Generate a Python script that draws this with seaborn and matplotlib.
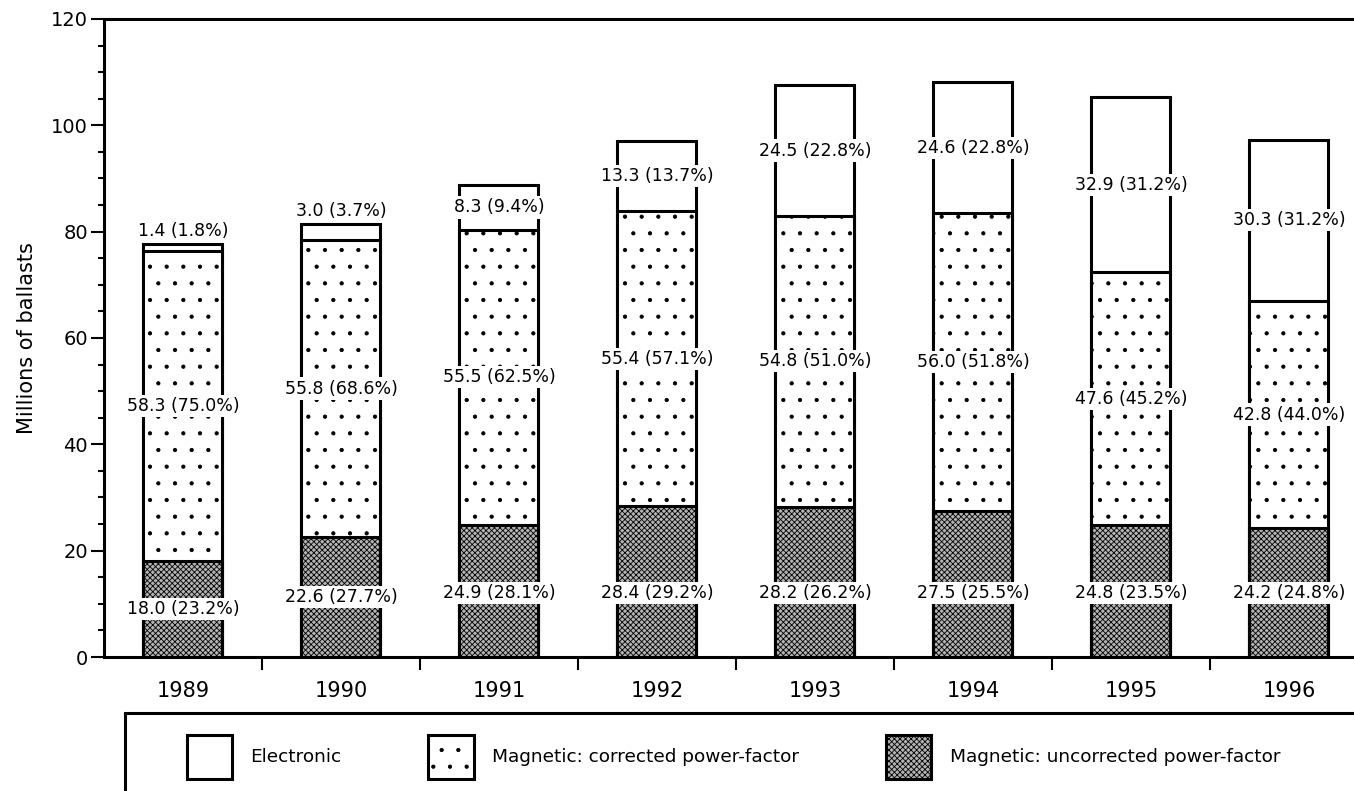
"""
Stacked bars: ballast shipments by type, 1989-1996
"""

import numpy as np
import pandas as pd
import matplotlib
matplotlib.use("Agg")
import matplotlib.pyplot as plt
from matplotlib.patches import Rectangle
from matplotlib.ticker import MultipleLocator, FixedLocator
import seaborn as sns

# ============== DATA ==============
YEARS = ["1989", "1990", "1991", "1992", "1993", "1994", "1995", "1996"]

# millions of ballasts, with share of the year's total
UNCORRECTED = [18.0, 22.6, 24.9, 28.4, 28.2, 27.5, 24.8, 24.2]
UNCORRECTED_PCT = [23.2, 27.7, 28.1, 29.2, 26.2, 25.5, 23.5, 24.8]
CORRECTED = [58.3, 55.8, 55.5, 55.4, 54.8, 56.0, 47.6, 42.8]
CORRECTED_PCT = [75.0, 68.6, 62.5, 57.1, 51.0, 51.8, 45.2, 44.0]
ELECTRONIC = [1.4, 3.0, 8.3, 13.3, 24.5, 24.6, 32.9, 30.3]
ELECTRONIC_PCT = [1.8, 3.7, 9.4, 13.7, 22.8, 22.8, 31.2, 31.2]

LEGEND_LABELS = [
    "Electronic",
    "Magnetic: corrected power-factor",
    "Magnetic: uncorrected power-factor",
]
# ====================================


def build_frame():
    """cumulative heights for layered (stacked) bars"""
    df = pd.DataFrame({
        "year": YEARS,
        "uncorrected": UNCORRECTED,
        "corrected": CORRECTED,
        "electronic": ELECTRONIC,
    })
    df["cum_corrected"] = df["uncorrected"] + df["corrected"]
    df["total"] = df["cum_corrected"] + df["electronic"]
    return df


def label(ax, x, y, value, pct):
    ax.text(x, y, f"{value:.1f} ({pct:.1f}%)", ha="center", va="center",
            fontsize=12.5, zorder=5,
            bbox=dict(facecolor="white", edgecolor="none", pad=1.5))


def main():
    plt.rcParams["hatch.linewidth"] = 0.6
    df = build_frame()

    fig = plt.figure(figsize=(13.54, 7.91), dpi=100)
    ax = fig.add_axes([0.0768, 0.1694, 0.9335, 0.8066])

    bar_kw = dict(width=0.5, edgecolor="black", linewidth=2.2,
                  saturation=1, errorbar=None, ax=ax)
    # draw from tallest to shortest so each layer covers the one below
    sns.barplot(data=df, x="year", y="total", color="white", **bar_kw)
    sns.barplot(data=df, x="year", y="cum_corrected", color="white", **bar_kw)
    sns.barplot(data=df, x="year", y="uncorrected", color="#b4b4b4", **bar_kw)

    for p in ax.containers[1]:
        p.set_hatch(".")
    for p in ax.containers[2]:
        p.set_hatch("xxxxxx")

    # value labels
    for i in range(len(YEARS)):
        unc = df["uncorrected"][i]
        cum = df["cum_corrected"][i]
        tot = df["total"][i]
        label(ax, i, min(unc / 2, 12), UNCORRECTED[i], UNCORRECTED_PCT[i])
        label(ax, i, (unc + cum) / 2, CORRECTED[i], CORRECTED_PCT[i])
        y_el = (cum + tot) / 2 if ELECTRONIC[i] > 5 else tot + 2.5
        label(ax, i, y_el, ELECTRONIC[i], ELECTRONIC_PCT[i])

    # axes
    ax.set_xlim(-0.5, 7.5)
    ax.set_ylim(0, 120)
    ax.set_xlabel("")
    ax.set_ylabel("Millions of ballasts", fontsize=15, labelpad=10)
    ax.yaxis.set_major_locator(MultipleLocator(20))
    ax.yaxis.set_minor_locator(MultipleLocator(5))
    ax.xaxis.set_minor_locator(FixedLocator(np.arange(0.5, 7, 1)))
    ax.tick_params(axis="y", which="major", length=9.5, width=1.5,
                   labelsize=14, pad=2)
    ax.tick_params(axis="y", which="minor", length=4, width=1.5)
    ax.tick_params(axis="x", which="major", length=0, labelsize=15, pad=17)
    ax.tick_params(axis="x", which="minor", length=9.5, width=1.5)

    ax.spines["right"].set_visible(False)
    for side in ["left", "top", "bottom"]:
        ax.spines[side].set_linewidth(2.2)

    # legend box (runs off the right and bottom edge)
    fig.add_artist(Rectangle((0.0923, -0.05), 1.0, 0.1486,
                             transform=fig.transFigure, fill=False,
                             linewidth=2.2, edgecolor="black", clip_on=False))
    fig.legend(handles=list(ax.containers), labels=LEGEND_LABELS,
               loc="upper left", bbox_to_anchor=(0.131, 0.083), ncol=3,
               frameon=False, borderpad=0, handlelength=2.45,
               handleheight=3.3, handletextpad=1.0, columnspacing=4.7,
               fontsize=13.3)

    fig.savefig("out.png", dpi=100)
    plt.close(fig)


if __name__ == "__main__":
    main()
